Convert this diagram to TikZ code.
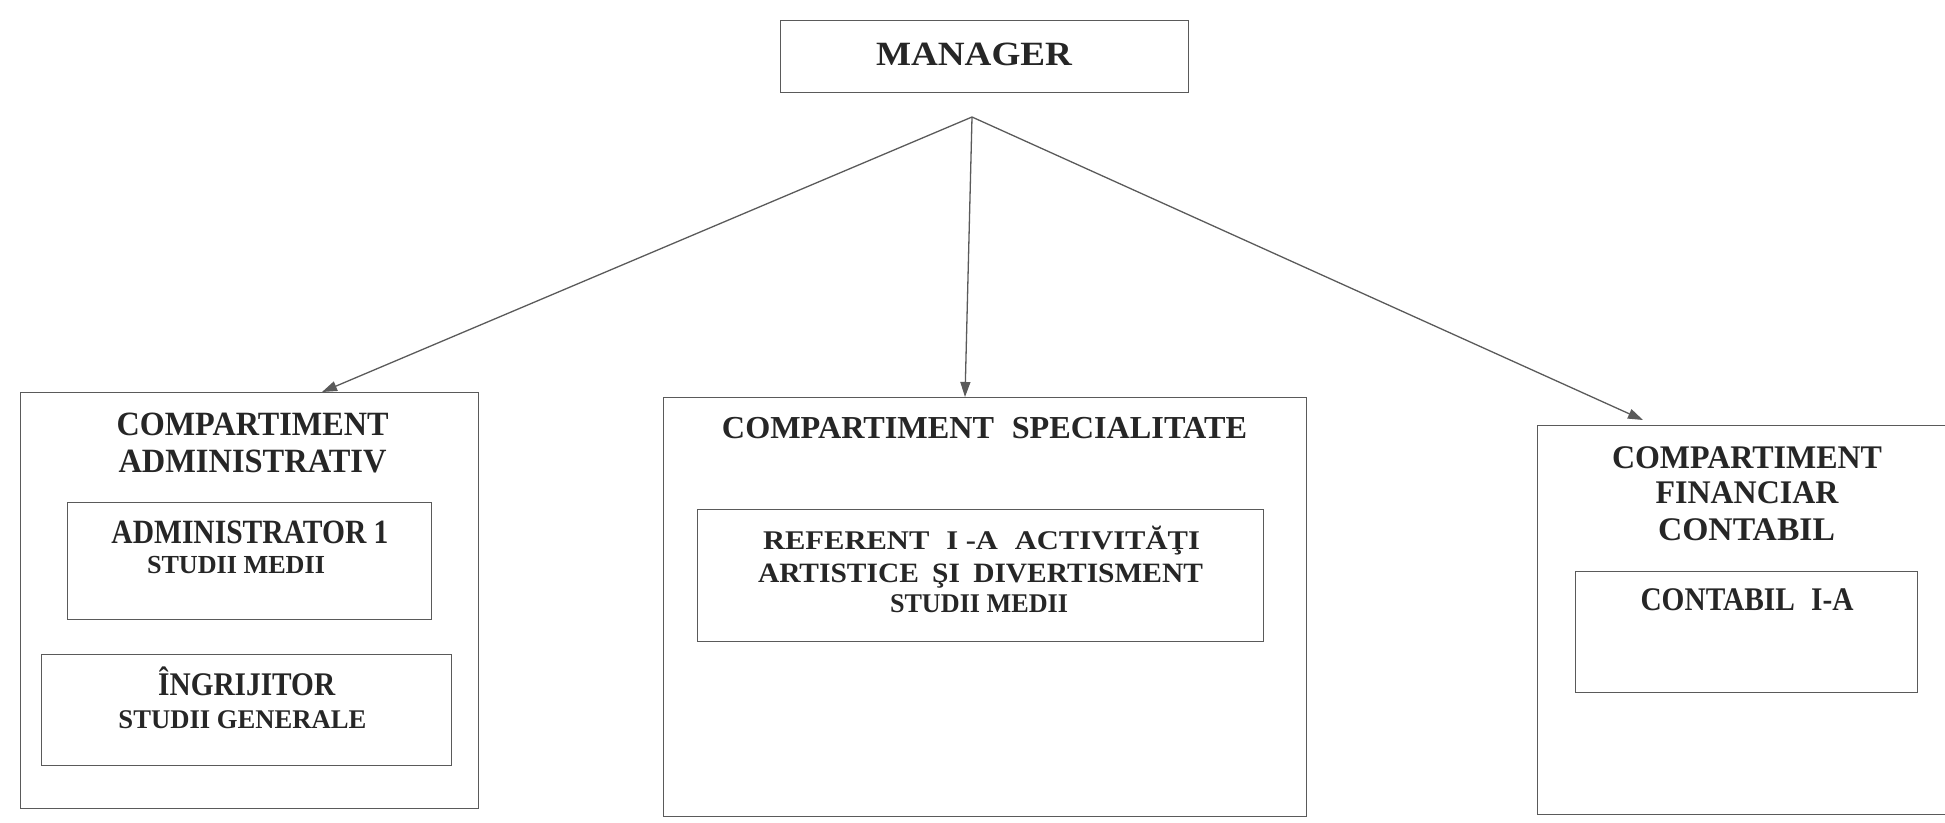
\documentclass[tikz,border=0pt]{standalone}
\usepackage{fontspec}
\usepackage{graphicx}
\setmainfont{Liberation Serif}
\usetikzlibrary{arrows.meta}
\definecolor{inkc}{HTML}{262626}
\definecolor{linec}{HTML}{5A5A5A}
\newcommand\lbltxt[3]{\resizebox{#2pt}{\height}{\fontsize{#1}{#1}\selectfont\bfseries #3}}
\tikzset{
  box/.style={draw=linec, line width=1.3pt, inner sep=0pt, anchor=north west},
  txt/.style={anchor=base, inner sep=0pt, text=inkc},
  arr/.style={draw=linec, line width=1.3pt, -{Triangle[length=15pt,width=10pt]}, color=linec}
}
\begin{document}
\begin{tikzpicture}[x=1pt,y=-1pt]
\useasboundingbox (0,0) rectangle (1945,822);
% boxes
\node[box, minimum width=408pt, minimum height=72pt] (mgr) at (780,20) {};
\node[box, minimum width=458pt, minimum height=416pt] (lbox) at (20,392) {};
\node[box, minimum width=364pt, minimum height=117pt] (admin) at (67,502) {};
\node[box, minimum width=410pt, minimum height=111pt] (ingr) at (41,654) {};
\node[box, minimum width=643pt, minimum height=419pt] (mbox) at (663,397) {};
\node[box, minimum width=566pt, minimum height=132pt] (ref) at (697,509) {};
\node[box, minimum width=428pt, minimum height=389pt] (rbox) at (1537,425) {};
\node[box, minimum width=342pt, minimum height=121pt] (cont) at (1575,571) {};
% texts
\node[txt] (tmgr) at (974,65) {\lbltxt{34}{196}{MANAGER}};
\node[txt] (tl1) at (252.5,435) {\lbltxt{34}{272}{COMPARTIMENT}};
\node[txt] (tl2) at (252.5,472) {\lbltxt{34}{268}{ADMINISTRATIV}};
\node[txt] (ta1) at (250,543) {\lbltxt{34}{277}{ADMINISTRATOR 1}};
\node[txt] (ta2) at (236,573) {\lbltxt{26}{178}{STUDII MEDII}};
\node[txt] (ti1) at (246.7,695) {\lbltxt{33}{177}{ÎNGRIJITOR}};
\node[txt] (ti2) at (242.5,728) {\lbltxt{27}{248}{STUDII GENERALE}};
\node[txt] (tm) at (984.5,438) {\lbltxt{32}{525}{COMPARTIMENT\hspace{0.3em} SPECIALITATE}};
\node[txt] (tr1) at (981.5,549) {\lbltxt{27}{437}{REFERENT\hspace{0.3em} I -A\hspace{0.3em} ACTIVITĂŢI}};
\node[txt] (tr2) at (980.5,582) {\lbltxt{28}{445}{ARTISTICE\hspace{0.2em} ŞI\hspace{0.2em} DIVERTISMENT}};
\node[txt] (tr3) at (979,612) {\lbltxt{27}{178}{STUDII MEDII}};
\node[txt] (tf1) at (1747,468) {\lbltxt{33}{270}{COMPARTIMENT}};
\node[txt] (tf2) at (1747,503) {\lbltxt{33}{183}{FINANCIAR}};
\node[txt] (tf3) at (1746.5,540) {\lbltxt{33}{177}{CONTABIL}};
\node[txt] (tc) at (1747,610) {\lbltxt{33}{213}{CONTABIL\hspace{0.3em} I-A}};
% connectors
\coordinate (j) at (972,117);
\coordinate (tipL) at (322,392);
\coordinate (tipM) at (965,397);
\coordinate (tipR) at (1643,420);
\draw[arr] (j) -- (tipL);
\draw[arr] (j) -- (tipM);
\draw[arr] (j) -- (tipR);
\end{tikzpicture}
\end{document}
